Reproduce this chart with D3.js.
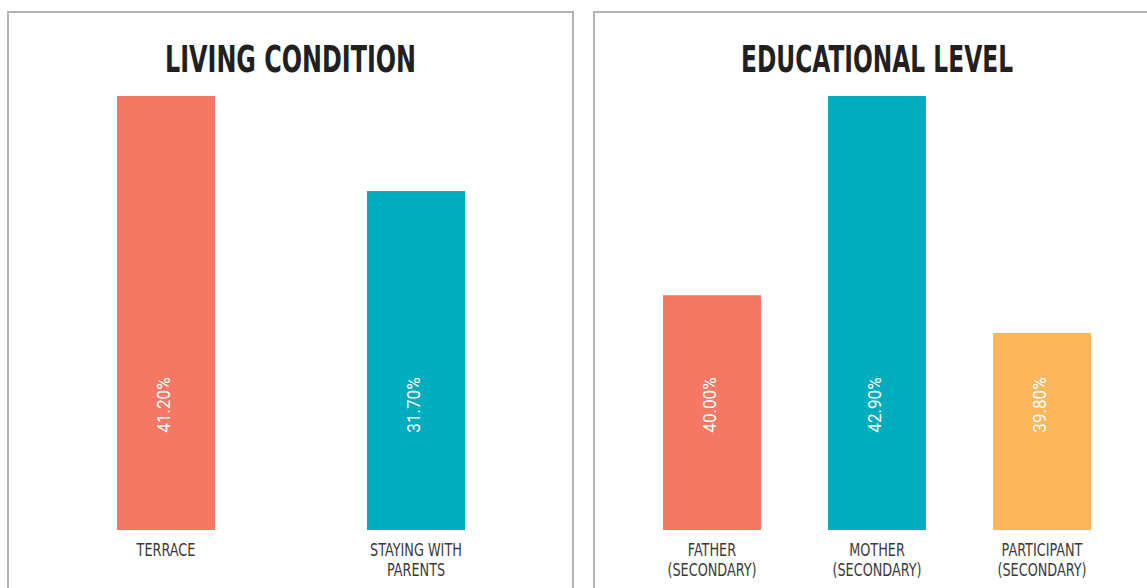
<!DOCTYPE html>
<html>
<head>
<meta charset="utf-8">
<script src="https://cdn.jsdelivr.net/npm/d3@7"></script>
<style>
  body { margin: 0; background: #fff; }
  svg { display: block; }
</style>
</head>
<body>
<svg id="mainsvg" width="1147" height="588"></svg>
<script>
// data
const livingCategories = [['TERRACE'], ['STAYING WITH', 'PARENTS']];
const livingLabels = ['41.20%', '31.70%'];
// bar height, as % of the tallest bar in the panel
const livingLevels = [100, 78.1];

const eduCategories = [['FATHER', '(SECONDARY)'], ['MOTHER', '(SECONDARY)'], ['PARTICIPANT', '(SECONDARY)']];
const eduLabels = ['40.00%', '42.90%', '39.80%'];
const eduLevels = [54.1, 100, 45.4];

const salmon = '#f47864', teal = '#00adbf', yellow = '#fdb75a';

const svg = d3.select('#mainsvg');
const barTop = 96, barBottom = 530;

function drawPanel(opt) {
    const g = svg.append('g');

    // frame
    g.append('rect')
        .attr('x', opt.x).attr('y', 12)
        .attr('width', opt.w).attr('height', 600)
        .attr('fill', 'none')
        .attr('stroke', '#b3b3b3')
        .attr('stroke-width', 2);

    // title
    g.append('text')
        .attr('x', opt.x + opt.w / 2)
        .attr('y', 72)
        .attr('text-anchor', 'middle')
        .style('font-family', '"Liberation Sans Narrow", "DejaVu Sans Condensed", sans-serif')
        .style('font-weight', 'bold')
        .style('font-size', '37px')
        .attr('fill', '#231f20')
        .attr('textLength', opt.titleW)
        .attr('lengthAdjust', 'spacingAndGlyphs')
        .text(opt.title);

    const xScale = d3.scaleBand()
        .domain(d3.range(opt.levels.length))
        .range(opt.range);

    const yScale = d3.scaleLinear()
        .domain([0, 100])
        .range([barBottom, barTop]);

    const bw = 98;
    const cx = i => xScale(i) + xScale.bandwidth() / 2;

    g.selectAll('.bar')
        .data(opt.levels)
        .join('rect')
        .attr('class', 'bar')
        .attr('x', (d, i) => cx(i) - bw / 2)
        .attr('y', d => yScale(d))
        .attr('width', bw)
        .attr('height', d => barBottom - yScale(d))
        .attr('fill', (d, i) => opt.colors[i]);

    // value labels, rotated
    g.selectAll('.val')
        .data(opt.labels)
        .join('text')
        .attr('class', 'val')
        .attr('transform', (d, i) => `translate(${cx(i) + 3.5}, 405) rotate(-90) scale(0.9, 1)`)
        .attr('text-anchor', 'middle')
        .style('font-family', 'Roboto, sans-serif')
        .style('font-size', '19px')
        .attr('fill', '#fff')
        .text(d => d);

    // category labels
    const cats = g.selectAll('.cat')
        .data(opt.cats)
        .join('text')
        .attr('class', 'cat')
        .attr('transform', (d, i) => `translate(${cx(i)}, 556) scale(0.84, 1)`)
        .attr('text-anchor', 'middle')
        .style('font-family', '"Liberation Sans Narrow", "DejaVu Sans Condensed", sans-serif')
        .style('font-size', '17px')
        .attr('fill', '#3a3a3a');

    cats.selectAll('tspan')
        .data(d => d)
        .join('tspan')
        .attr('x', 0)
        .attr('dy', (d, j) => j === 0 ? 0 : 20)
        .text(d => d);
}

drawPanel({
    x: 8, w: 565, title: 'LIVING CONDITION', titleW: 251,
    levels: livingLevels, labels: livingLabels, cats: livingCategories,
    colors: [salmon, teal], range: [41, 541]
});

drawPanel({
    x: 594, w: 566, title: 'EDUCATIONAL LEVEL', titleW: 272,
    levels: eduLevels, labels: eduLabels, cats: eduCategories,
    colors: [salmon, teal, yellow], range: [629.5, 1124.5]
});
</script>
</body>
</html>
